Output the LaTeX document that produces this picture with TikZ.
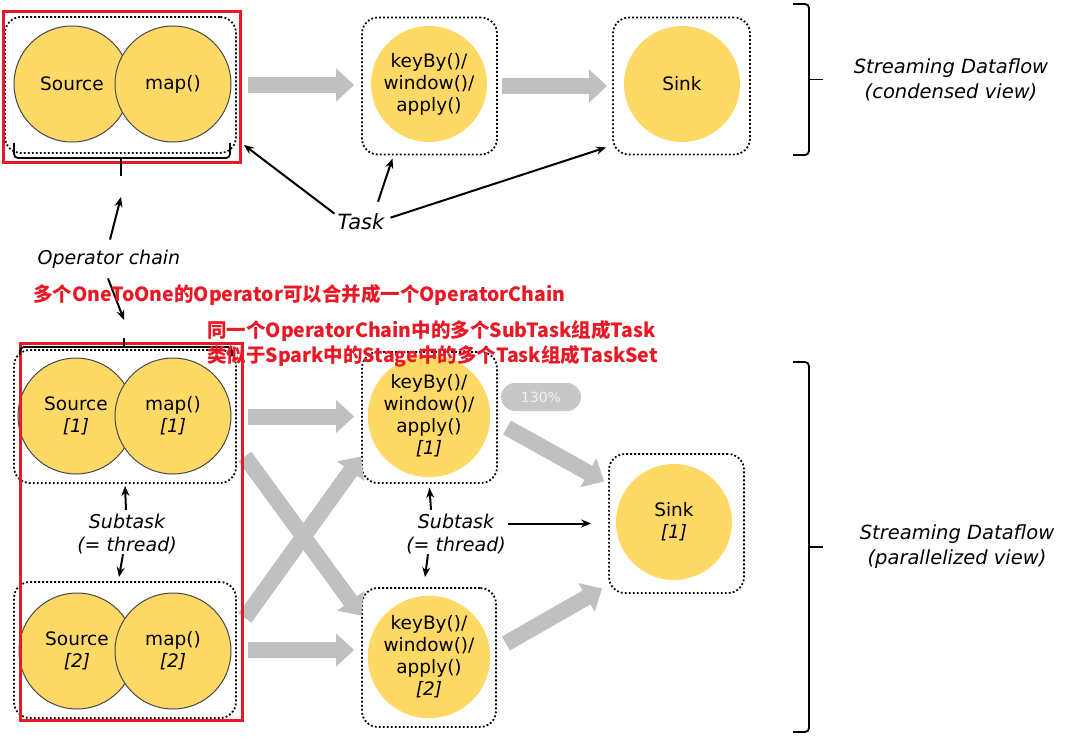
\documentclass[tikz,border=0pt]{standalone}
\usepackage{fontspec}
\setmainfont{DejaVu Sans}
\newfontfamily\cjk{Noto Sans CJK SC}
\usetikzlibrary{arrows.meta}
\definecolor{opyellow}{RGB}{255,217,102}
\definecolor{rimgray}{RGB}{70,70,70}
\definecolor{flowgray}{RGB}{192,192,192}
\definecolor{markred}{RGB}{232,24,36}
\begin{document}
\begin{tikzpicture}[x=1pt,y=-1pt,
        opsty/.style={circle,fill=opyellow,minimum size=116pt,inner sep=0pt,align=center,font=\fontsize{18.5}{22}\selectfont},
        rimsty/.style={draw=rimgray,line width=1pt},
        boxsty/.style={draw,line width=1.8pt,dash pattern=on 1.8pt off 2.2pt,rounded corners=16pt,inner sep=0pt},
        flowsty/.style={draw=flowgray,line width=16pt,-{Triangle[length=18pt,width=32pt]}},
        arrsty/.style={-{Stealth[length=10pt,width=8pt]},line width=2pt},
        lblsty/.style={font=\fontsize{19}{23}\selectfont\itshape,align=center,inner sep=0pt},
        viewsty/.style={font=\fontsize{19.5}{25}\selectfont\itshape,align=center,inner sep=0pt},
        notesty/.style={font=\cjk\bfseries\fontsize{19.5}{22}\selectfont,text=markred,anchor=west,inner sep=0pt},
        redsty/.style={draw=markred,line width=3pt},
        bracesty/.style={line width=1.8pt,rounded corners=4pt},
        ]
    \useasboundingbox (0,0) rectangle (1084,741);

    % condensed view
    \node (chain0) at (120.5,85) [boxsty,minimum width=231pt,minimum height=136pt] {};
    \node (key0) at (429.5,86) [boxsty,minimum width=135pt,minimum height=137pt] {};
    \node (snk0) at (681.5,86) [boxsty,minimum width=137pt,minimum height=137pt] {};
    \node (src0) at (72,84) [opsty,rimsty] {Source};
    \node (map0) at (173,84) [opsty,rimsty] {map()};
    \node (keyc0) at (429,84) [opsty] {keyBy()/\\window()/\\apply()};
    \node (snkc0) at (682,84) [opsty] {Sink};

    \draw[flowsty,shorten <=11pt,shorten >=7pt] (chain0.east) -- (chain0.east -| key0.west);
    \draw[flowsty,shorten <=4pt,shorten >=5pt] (key0.east) -- (key0.east -| snk0.west);

    \draw[redsty] (3,12) rectangle (240,162);
    \draw[bracesty] (14,143) -- (14,158) -- (230,158) -- (230,143);
    \draw[line width=1.8pt] (121,158) -- (121,176);

    \draw[bracesty] (793,4) -- (809,4) -- (809,155) -- (793,155);
    \draw[line width=1.8pt] (809,79.5) -- (823,79.5);
    \node (cview) at (951,80) [viewsty] {Streaming Dataflow\\(condensed view)};

    \node (task) at (361,222) [font=\fontsize{21}{25}\selectfont\itshape,inner sep=0pt] {Task};
    \draw[arrsty] ([xshift=-3pt]task.north west) -- ([xshift=7pt,yshift=9pt]chain0.south east);
    \draw[arrsty] ([xshift=17pt,yshift=12pt]task.north) -- ([xshift=-37pt,yshift=-3pt]key0.south);
    \draw[arrsty] ([xshift=6pt,yshift=-4pt]task.north east) -- ([xshift=-6pt,yshift=8pt]snk0.south west);

    % operator chain
    \node (chainlbl) at (109,259) [lblsty] {Operator chain};
    \coordinate (chainup) at (121,197);
    \coordinate (chaindn) at (124,320);
    \draw[arrsty] ([xshift=1pt,yshift=10pt]chainlbl.north) -- (chainup);
    \draw[arrsty] ([xshift=-1pt,yshift=-10pt]chainlbl.south) -- (chaindn);

    % parallelized view
    \node (chain1) at (125,416.5) [boxsty,minimum width=222pt,minimum height=133pt] {};
    \node (chain2) at (125,650) [boxsty,minimum width=222pt,minimum height=136pt] {};
    \node (key1) at (429.5,417.5) [boxsty,minimum width=135pt,minimum height=131pt] {};
    \node (key2) at (429,657.5) [boxsty,minimum width=134pt,minimum height=139pt] {};
    \node (snk1) at (676.5,523.5) [boxsty,minimum width=135pt,minimum height=139pt] {};

    \node (src1) at (76,416) [opsty,rimsty] {Source\\\textit{[1]}};
    \node (map1) at (173,416) [opsty,rimsty] {map()\\\textit{[1]}};
    \node (src2) at (77,651) [opsty,rimsty] {Source\\\textit{[2]}};
    \node (map2) at (173,651) [opsty,rimsty] {map()\\\textit{[2]}};
    \node (keyc1) at (429,416) [opsty] {keyBy()/\\window()/\\apply()\\\textit{[1]}};
    \node (keyc2) at (429,657) [opsty] {keyBy()/\\window()/\\apply()\\\textit{[2]}};
    \node (snkc1) at (674,522) [opsty] {Sink\\\textit{[1]}};

    \draw[flowsty,shorten <=11pt,shorten >=7pt] (chain1.east) -- (chain1.east -| key1.west);
    \draw[flowsty,shorten <=11pt,shorten >=7pt] (chain2.east) -- (chain2.east -| key2.west);
    \draw[flowsty] ([xshift=8pt,yshift=-40pt]chain1.east) -- ([yshift=42pt]key2.west);
    \draw[flowsty] ([xshift=8pt,yshift=32pt]chain2.east) -- ([yshift=-39pt]key1.west);
    \draw[flowsty] ([xshift=9pt,yshift=-10pt]key1.east) -- ([xshift=-4pt,yshift=42pt]snk1.west);
    \draw[flowsty] ([xshift=9pt,yshift=14pt]key2.east) -- ([xshift=-6pt,yshift=-65pt]snk1.west);

    \node (zoom) at (541,397) [fill=black!22,text=black!6,rounded corners=14pt,minimum width=80pt,minimum height=28pt,inner sep=0pt,font=\fontsize{14}{16}\selectfont] {130\%};

    \node (sub0) at (127,534) [lblsty] {Subtask\\(= thread)};
    \draw[arrsty] ([xshift=-1pt,yshift=4pt]sub0.north) -- ([yshift=-2pt]chain1.south);
    \draw[arrsty] ([xshift=-4pt]sub0.south) -- ([xshift=-6pt,yshift=4pt]chain2.north);
    \node (sub1) at (456,534) [lblsty] {Subtask\\(= thread)};
    \draw[arrsty] ([xshift=-25pt,yshift=4pt]sub1.north) -- ([yshift=-4pt]key1.south);
    \draw[arrsty] ([xshift=-28pt]sub1.south) -- ([xshift=-4pt,yshift=10pt]key2.north);
    \draw[arrsty] ([xshift=2pt]sub1.east |- snk1.west) -- ([xshift=-17pt]snk1.west);

    \draw[redsty] (20,343) rectangle (242,720);
    \draw[bracesty] (20,355) -- (20,347) -- (232,347) -- (232,355);
    \draw[line width=1.8pt] (124,347) -- (124,338);

    \draw[bracesty] (793,362) -- (809,362) -- (809,732) -- (793,732);
    \draw[line width=1.8pt] (809,547) -- (823,547);
    \node (pview) at (957,547) [viewsty] {Streaming Dataflow\\(parallelized view)};

    % notes
    \node (note0) at (33,295) [notesty] {多个OneToOne的Operator可以合并成一个OperatorChain};
    \node (note1) at (207,331) [notesty] {同一个OperatorChain中的多个SubTask组成Task};
    \node (note2) at (207,356) [notesty] {类似于Spark中的Stage中的多个Task组成TaskSet};
\end{tikzpicture}
\end{document}
